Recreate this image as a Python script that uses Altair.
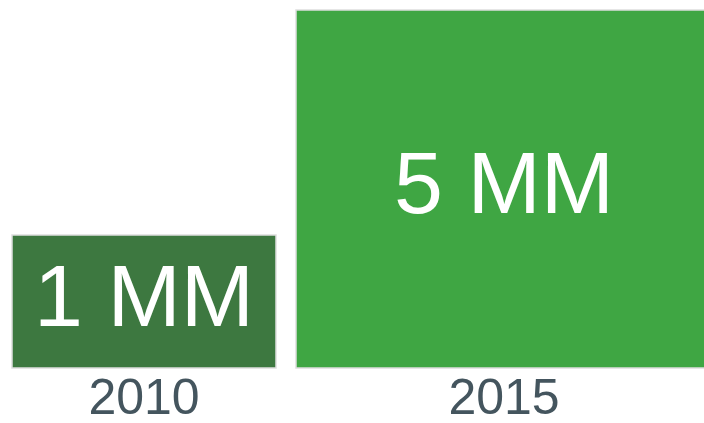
import altair as alt
import pandas as pd

years = ["2010", "2015"]
values = [1, 5]
labels = ["1 MM", "5 MM"]
colors = ["#3d7840", "#3fa643"]

df = pd.DataFrame({"year": years, "value": values, "label": labels})

Y_MIN = -1.364
FONT = "Liberation Sans"
yscale = alt.Scale(domain=[Y_MIN, 5], zero=False, nice=False)

base = alt.Chart(df).transform_calculate(
    base=f"{Y_MIN}", mid=f"(datum.value + ({Y_MIN})) / 2"
).encode(
    x=alt.X(
        "year:N",
        scale=alt.Scale(range=[-36, 684], paddingInner=0, paddingOuter=0),
        axis=alt.Axis(
            title=None, domain=False, ticks=False, labelAngle=0,
            labelFontSize=50, labelColor="#44555e", labelFont=FONT,
            labelPadding=5,
        ),
    )
)

bars = base.mark_bar(stroke="#dedede", strokeWidth=1.5).encode(
    y=alt.Y("value:Q", scale=yscale, axis=None),
    y2=alt.Y2("base:Q"),
    size=alt.Size("value:Q", scale=alt.Scale(domain=[1, 5], range=[264, 416]), legend=None),
    color=alt.Color("year:N", scale=alt.Scale(domain=years, range=colors), legend=None),
)

text = base.mark_text(
    font=FONT, fontSize=88, color="white", baseline="middle", align="center", dy=-2
).encode(
    y=alt.Y("mid:Q", scale=yscale),
    text="label:N",
)

chart = (
    alt.layer(bars, text)
    .properties(
        width=704, height=358,
        padding={"left": 0, "right": 0, "top": 10, "bottom": 55},
        autosize=alt.AutoSizeParams(type="none"),
        background="white",
    )
    .configure_view(stroke=None)
)

chart.save("out.html", embed_options={"renderer": "svg", "actions": False})
